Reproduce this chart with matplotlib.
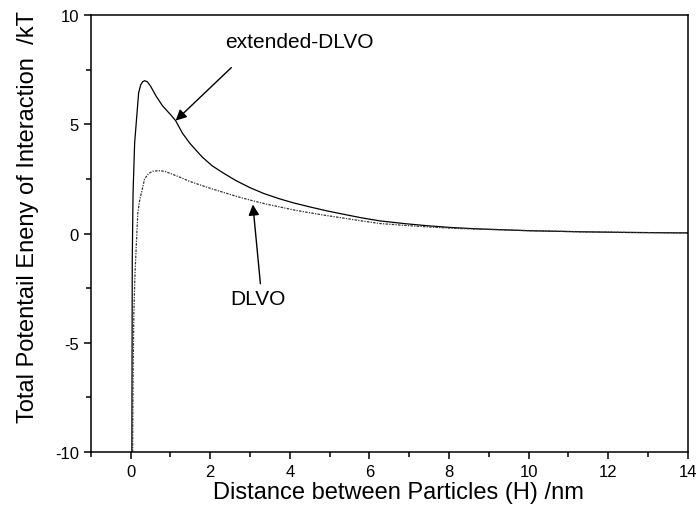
import matplotlib
matplotlib.use('Agg')
import matplotlib.pyplot as plt
from matplotlib.ticker import MultipleLocator

plt.rcParams['font.family'] = ['Liberation Sans', 'DejaVu Sans']
plt.rcParams['axes.unicode_minus'] = False

# interaction energy curves, H in nm, energy in kT
ext_x = [0.03, 0.04, 0.06, 0.10, 0.15, 0.20, 0.25, 0.30, 0.35, 0.42, 0.50, 0.64, 0.80,
         1.00, 1.13, 1.30, 1.48, 1.65, 1.80, 2.05, 2.32, 2.65, 3.00, 3.35, 3.74,
         4.10, 4.50, 4.90, 5.30, 5.80, 6.26, 6.90, 7.50, 8.10, 8.77, 10.0, 11.3,
         12.5, 13.8, 14.0]
ext_y = [-10.0, -1.2, 1.86, 4.15, 5.3, 6.44, 6.8, 6.95, 7.0, 6.95, 6.75, 6.29, 5.85,
         5.45, 5.17, 4.6, 4.15, 3.8, 3.5, 3.1, 2.78, 2.42, 2.1, 1.83, 1.59,
         1.4, 1.22, 1.05, 0.9, 0.72, 0.58, 0.45, 0.35, 0.27, 0.21, 0.13, 0.08,
         0.05, 0.03, 0.03]

dlvo_x = [0.05, 0.06, 0.08, 0.11, 0.14, 0.18, 0.23, 0.27, 0.35, 0.45, 0.55, 0.69, 0.85,
          1.00, 1.25, 1.48, 1.90, 2.32, 2.70, 3.07, 3.40, 3.74, 4.10, 4.50, 4.90,
          5.30, 5.80, 6.26, 6.90, 7.50, 8.10, 8.77, 10.0, 11.3, 12.5, 13.8, 14.0]
dlvo_y = [-10.0, -6.7, -3.6, -1.8, -0.58, 0.95, 1.56, 1.86, 2.5, 2.75, 2.85, 2.88, 2.85,
          2.75, 2.57, 2.39, 2.13, 1.89, 1.68, 1.5, 1.35, 1.22, 1.08, 0.95, 0.83,
          0.72, 0.58, 0.46, 0.37, 0.3, 0.24, 0.2, 0.13, 0.08, 0.05, 0.03, 0.03]

fig = plt.figure(figsize=(6.99, 5.06), dpi=100)
ax = fig.add_axes([0.130, 0.105, 0.854, 0.863])

ax.plot(ext_x, ext_y, color='black', lw=0.9)
ax.plot(dlvo_x, dlvo_y, color='#333333', lw=0.9, linestyle=(0, (2, 1, 1, 1)))

ax.set_xlim(-1, 14)
ax.set_ylim(-10, 10)
ax.xaxis.set_minor_locator(MultipleLocator(1))
ax.yaxis.set_major_locator(MultipleLocator(5))
ax.yaxis.set_minor_locator(MultipleLocator(2.5))
ax.set_xticks(range(0, 15, 2))
ax.tick_params(which='both', direction='out', width=1.1, labelsize=12)
ax.tick_params(which='major', length=5)
ax.tick_params(which='minor', length=3.5)
for sp in ax.spines.values():
    sp.set_linewidth(1.1)

ax.set_xlabel('Distance between Particles (H) /nm', fontsize=17, va='center')
ax.xaxis.set_label_coords(0.516, -0.0915)
ax.set_ylabel('Total Potentail Eneny of Interaction  /kT', fontsize=17, va='center')
ax.yaxis.set_label_coords(-0.1055, 0.54)

arrow = dict(arrowstyle='-|>', color='black', lw=1.0, mutation_scale=16,
             shrinkA=0, shrinkB=0)
ax.annotate('', xy=(1.13, 5.17), xytext=(2.53, 7.6), arrowprops=arrow)
ax.text(4.25, 8.79, 'extended-DLVO', fontsize=15, ha='center', va='center')
ax.annotate('', xy=(3.07, 1.33), xytext=(3.26, -2.3), arrowprops=arrow)
ax.text(3.19, -2.97, 'DLVO', fontsize=15, ha='center', va='center')

fig.savefig('out.png', dpi=100)
